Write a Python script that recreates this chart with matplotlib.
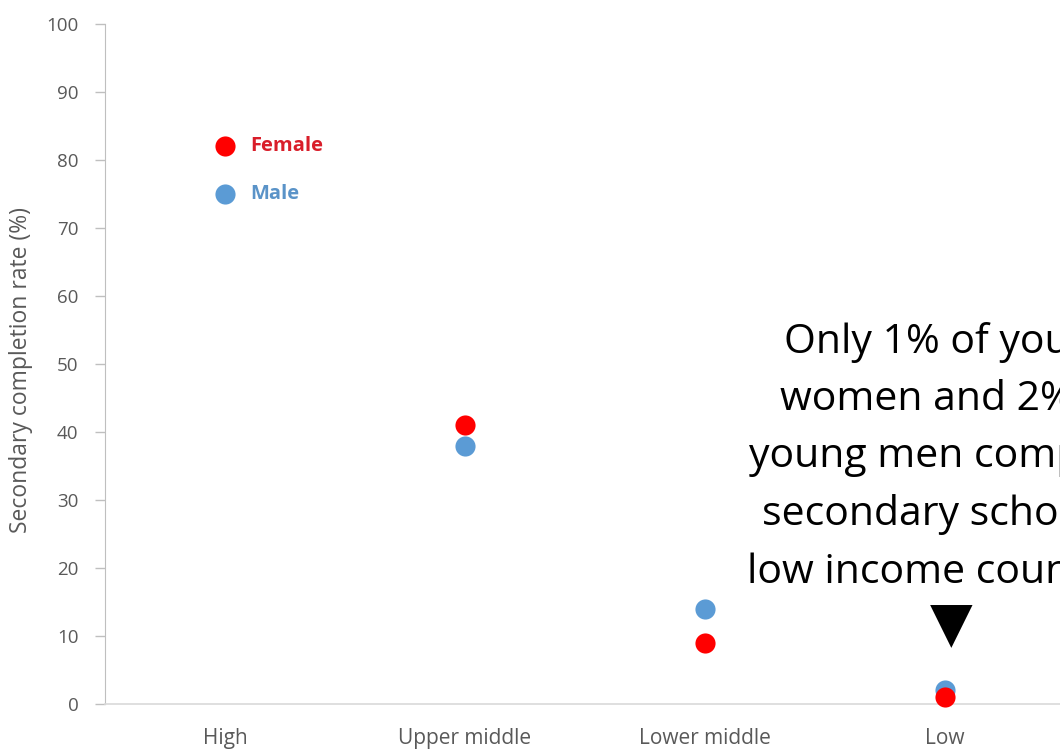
import matplotlib
matplotlib.use("Agg")
import matplotlib.pyplot as plt

# Income groups and completion rates (%)
categories = ["High", "Upper middle", "Lower middle", "Low"]
female = [82, 41, 9, 1]
male = [75, 38, 14, 2]
y_ticks = [0, 10, 20, 30, 40, 50, 60, 70, 80, 90, 100]

RED = "#FF0000"
BLUE = "#5B9BD5"
GRAY_TXT = "#595959"

plt.rcParams["font.family"] = ["Open Sans", "DejaVu Sans"]

W, H = 1060, 752
fig = plt.figure(figsize=(W / 100, H / 100), dpi=100)
ax = fig.add_axes([105 / W, 48 / H, 960 / W, 680 / H])

x = list(range(len(categories)))
ax.plot(x, male, "o", ms=14.5, color=BLUE, mec="none", clip_on=False, zorder=3)
ax.plot(x, female, "o", ms=14.5, color=RED, mec="none", clip_on=False, zorder=4)

ax.set_xlim(-0.5, len(categories) - 0.5)
ax.set_ylim(0, 100)
ax.set_yticks(y_ticks)
ax.set_xticks(x)
ax.set_xticklabels(categories, fontsize=15, color=GRAY_TXT)
ax.tick_params(axis="x", length=0, pad=17)
ax.tick_params(axis="y", length=7, width=1, color="#BFBFBF", labelsize=13.5,
               labelcolor=GRAY_TXT, pad=12)

for side in ("top", "right"):
    ax.spines[side].set_visible(False)
ax.spines["left"].set_color("#BFBFBF")
ax.spines["bottom"].set_color("#D9D9D9")
ax.spines["bottom"].set_linewidth(1.2)

ax.set_ylabel("Secondary completion rate (%)", fontsize=16.5, color=GRAY_TXT)
ax.yaxis.set_label_coords(-0.075, 0.491)

# Series names written beside the high-income points
ax.annotate("Female", (0, female[0]), xytext=(18, 0), textcoords="offset points",
            va="center", ha="left", fontsize=14.5, fontweight="bold", color="#D91E2A")
ax.annotate("Male", (0, male[0]), xytext=(18, 0), textcoords="offset points",
            va="center", ha="left", fontsize=14.5, fontweight="bold", color="#5A93C8")

# Callout for low-income countries
ax.text(3.025, 36.3,
        "Only 1% of young\nwomen and 2% of\nyoung men complete\nsecondary school in\nlow income countries",
        ha="center", va="center", fontsize=29.5, color="black", linespacing=1.55,
        clip_on=False)
ax.text(3.025, 11.5, "\u25BC", ha="center", va="center", fontsize=40,
        family="DejaVu Sans", color="black", clip_on=False)

fig.savefig("out.png", dpi=100, facecolor="white")
